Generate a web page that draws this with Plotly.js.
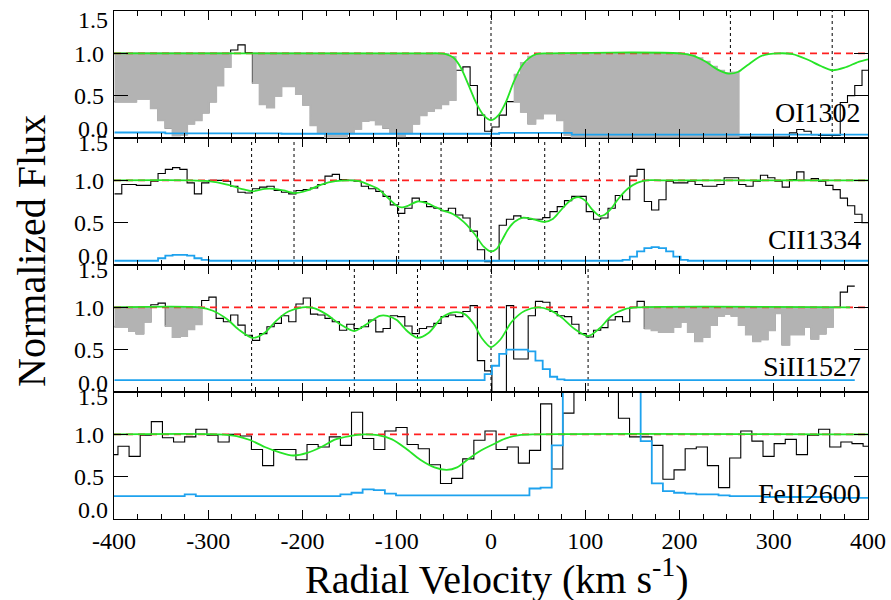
<!DOCTYPE html>
<html><head><meta charset="utf-8">
<script src="https://cdn.plot.ly/plotly-3.0.1.min.js"></script>
<style>html,body{margin:0;padding:0;background:#fff}#chart{width:891px;height:600px}</style>
</head><body><div id="chart"></div>
<script>
// ---------- data ----------
// pixel centres (km/s) of the UV spectrum (OI, CII, SiII)
const velUV = [-395.6,-387.9,-380.2,-372.5,-364.8,-357.1,-349.4,-341.7,-334.0,-326.3,
-318.6,-310.9,-303.2,-295.5,-287.8,-280.1,-272.4,-264.7,-257.0,-249.3,
-241.6,-233.9,-226.2,-218.5,-210.8,-203.1,-195.4,-187.7,-180.0,-172.3,
-164.6,-156.9,-149.2,-141.5,-133.8,-126.1,-118.4,-110.7,-103.0,-95.3,
-87.6,-79.9,-72.2,-64.5,-56.8,-49.1,-41.4,-33.7,-26.0,-18.3,
-10.6,-2.9,4.8,12.5,20.2,27.9,35.6,43.3,51.0,58.7,
66.4,74.1,81.8,89.5,97.2,104.9,112.6,120.3,128.0,135.7,
143.4,151.1,158.8,166.5,174.2,181.9,189.6,197.3,205.0,212.7,
220.4,228.1,235.8,243.5,251.2,258.9,266.6,274.3,282.0,289.7,
297.4,305.1,312.8,320.5,328.2,335.9,343.6,351.3,359.0,366.7,
374.4,382.1,389.8,397.5];

const fluxOI = [0.43,0.43,0.43,0.465,0.465,0.35,0.21,0.12,0.03,0.04,
0.17,0.21,0.30,0.43,0.62,0.84,1.04,1.10,1.01,0.65,
0.40,0.36,0.50,0.61,0.61,0.52,0.39,0.15,0.07,0.01,
0.0,0.0,0.055,0.11,0.20,0.21,0.16,0.12,0.055,0.02,
0.055,0.17,0.27,0.32,0.35,0.40,0.45,0.80,0.84,0.62,
0.27,0.08,0.13,0.27,0.43,0.43,0.31,0.17,0.23,0.29,
0.29,0.21,0.035,0.015,0.015,0.015,0.015,0.015,0.015,0.015,
0.015,0.015,0.015,0.015,0.015,0.015,0.015,0.015,0.015,0.015,
0.015,0.015,0.015,0.015,0.015,0.015,0.01,0.01,0.01,0.01,
0.01,0.01,0.01,0.06,0.10,0.08,0.04,0.03,0.03,0.03,
0.42,0.50,0.62,0.80];
const errOI = [0.065,0.065,0.065,0.065,0.065,0.065,0.065,0.055,0.055,0.055,
0.055,0.055,0.055,0.055,0.055,0.055,0.055,0.055,0.055,0.055,
0.055,0.055,0.055,0.05,0.05,0.05,0.05,0.05,0.05,0.05,
0.05,0.05,0.05,0.05,0.05,0.05,0.05,0.05,0.05,0.05,
0.05,0.05,0.05,0.05,0.05,0.05,0.05,0.05,0.05,0.05,
0.05,0.05,0.05,0.06,0.06,0.06,0.06,0.06,0.06,0.06,
0.06,0.06,0.06,0.04,0.04,0.04,0.04,0.04,0.04,0.04,
0.04,0.04,0.04,0.04,0.04,0.04,0.04,0.04,0.04,0.04,
0.04,0.04,0.04,0.04,0.04,0.04,0.04,0.04,0.04,0.04,
0.04,0.04,0.04,0.04,0.04,0.04,0.04,0.04,0.04,0.04,
0.04,0.04,0.04,0.04];
const modelOIVel = [-400,-70,-55,-48,-40,-32,-24,-16,-8,0,8,16,24,32,40,48,60,200,215,228,240,252,262,272,287,305,320,335,350,362,375,390,400];
const modelOI    = [1,1,1,0.99,0.95,0.83,0.63,0.42,0.27,0.21,0.27,0.43,0.66,0.84,0.94,0.99,1,1,0.97,0.9,0.81,0.76,0.78,0.86,0.97,1.0,0.99,0.93,0.85,0.80,0.83,0.90,0.93];
const maskOI = [[-400,-276],[-253,-37.5],[24,262]];
const compOI = [0,254,362];

const fluxCII = [0.84,0.95,0.95,0.94,0.94,0.99,1.08,1.13,1.15,1.13,
0.97,0.84,0.97,1.0,1.0,0.99,0.93,0.86,0.85,0.90,
0.92,0.93,0.88,0.86,0.84,0.88,0.89,0.91,0.95,1.05,
1.07,1.01,1.0,0.99,0.93,0.90,0.87,0.81,0.71,0.61,
0.67,0.79,0.75,0.69,0.67,0.64,0.67,0.59,0.555,0.40,
0.18,0.04,0.05,0.47,0.54,0.58,0.56,0.54,0.54,0.56,
0.63,0.69,0.76,0.81,0.81,0.63,0.54,0.555,0.67,0.82,
0.77,1.05,1.13,0.75,0.65,0.77,0.99,0.97,0.97,0.99,
0.95,0.93,0.93,0.95,1.03,1.03,0.95,0.93,0.99,1.06,
1.03,0.99,0.92,1.01,1.10,1.0,1.02,0.99,0.94,0.89,
0.79,0.70,0.60,0.50];
const errCII = [0.05,0.05,0.05,0.05,0.05,0.05,0.08,0.11,0.12,0.12,
0.11,0.08,0.06,0.05,0.05,0.05,0.05,0.05,0.05,0.05,
0.05,0.05,0.05,0.05,0.05,0.05,0.05,0.05,0.05,0.05,
0.05,0.05,0.05,0.05,0.05,0.05,0.05,0.05,0.05,0.05,
0.05,0.05,0.05,0.05,0.05,0.05,0.05,0.05,0.05,0.05,
0.05,0.05,0.05,0.05,0.05,0.05,0.05,0.05,0.05,0.05,
0.05,0.05,0.05,0.05,0.05,0.05,0.05,0.05,0.05,0.05,
0.06,0.10,0.16,0.20,0.21,0.20,0.16,0.10,0.06,0.05,
0.05,0.05,0.05,0.05,0.05,0.05,0.05,0.05,0.05,0.05,
0.05,0.05,0.05,0.05,0.05,0.05,0.05,0.05,0.05,0.05,
0.05,0.05,0.05,0.05];
const modelCIIVel = [-400,-320,-300,-280,-265,-253,-240,-230,-220,-209,-195,-180,-165,-150,-140,-130,-120,-110,-100,-95,-88,-78,-68,-58,-50,-40,-29,-17,-8,0,6,12,18,25,34,45,57,65,72,80,88,94,100,107,115,120,127,135,145,155,165,180,400];
const modelCII    = [1,1,0.99,0.95,0.9,0.87,0.9,0.9,0.88,0.85,0.88,0.95,0.99,1.0,0.99,0.95,0.9,0.8,0.7,0.68,0.7,0.75,0.73,0.68,0.64,0.6,0.51,0.36,0.22,0.16,0.19,0.3,0.42,0.51,0.56,0.54,0.51,0.54,0.62,0.72,0.79,0.8,0.76,0.66,0.58,0.59,0.66,0.78,0.9,0.97,1.0,1.0,1.0];
const compCII = [-254,-209,-98,-53,0,57,115];

const fluxSiII = [0.77,0.77,0.72,0.69,0.83,1.03,1.05,0.78,0.65,0.66,
0.74,0.80,1.08,1.12,0.87,0.83,0.91,0.79,0.67,0.61,
0.69,0.77,0.81,0.90,0.83,1.04,1.11,0.92,0.91,0.87,
0.83,0.73,0.80,0.75,0.77,0.85,0.71,0.75,0.90,0.89,
0.78,0.69,0.75,0.77,0.81,0.89,0.91,0.89,0.95,1.02,
0.37,0.25,0.0,0.0,1.02,0.39,0.39,0.90,1.07,1.06,
0.95,0.90,0.89,0.80,0.69,0.65,0.73,0.76,0.85,0.89,
0.83,1.0,1.07,0.75,0.73,0.71,0.71,0.77,0.83,0.71,
0.60,0.65,0.79,0.90,0.92,0.90,0.79,0.68,0.60,0.62,
0.73,0.93,0.56,0.68,0.68,0.77,0.63,0.69,0.77,1.0,
1.18,1.25];
const errSiII = [0.14,0.14,0.14,0.14,0.14,0.14,0.14,0.14,0.14,0.14,
0.14,0.14,0.14,0.14,0.14,0.14,0.14,0.14,0.14,0.14,
0.14,0.14,0.14,0.14,0.14,0.14,0.14,0.14,0.14,0.14,
0.14,0.14,0.14,0.14,0.14,0.14,0.14,0.14,0.14,0.14,
0.14,0.14,0.14,0.14,0.14,0.14,0.14,0.14,0.14,0.14,
0.14,0.21,0.31,0.45,0.50,0.50,0.50,0.48,0.37,0.27,
0.18,0.15,0.14,0.14,0.14,0.14,0.14,0.14,0.14,0.14,
0.14,0.14,0.14,0.14,0.14,0.14,0.14,0.14,0.14,0.14,
0.14,0.14,0.14,0.14,0.14,0.14,0.14,0.14,0.14,0.14,
0.14,0.14,0.14,0.14,0.14,0.14,0.14,0.14,0.14,0.14,
0.14,0.14];
const modelSiIIVel = [-400,-310,-295,-280,-268,-253,-240,-228,-215,-200,-188,-175,-160,-145,-132,-118,-110,-100,-89,-78,-66,-52,-40,-28,-18,-10,0,10,22,36,50,62,75,88,103,115,128,142,158,381];
const modelSiII    = [1,1,0.96,0.86,0.74,0.64,0.7,0.84,0.95,1.0,0.99,0.92,0.8,0.72,0.8,0.9,0.9,0.85,0.72,0.64,0.7,0.88,0.94,0.92,0.8,0.64,0.53,0.62,0.83,0.96,1.0,0.97,0.88,0.75,0.66,0.75,0.9,0.98,1.0,1.0];
const maskSiII = [[-400,-361],[-346,-307],[162,363]];
const compSiII = [-254,-145,-78,0,103];

// FeII 2600 has coarser pixels
const velFe = [-401.7,-389.9,-378.1,-366.3,-354.5,-342.7,-330.9,-319.1,-307.3,-295.5,
-283.7,-271.9,-260.1,-248.3,-236.5,-224.7,-212.9,-201.1,-189.3,-177.5,
-165.7,-153.9,-142.1,-130.3,-118.5,-106.7,-94.9,-83.1,-71.3,-59.5,
-47.7,-35.9,-24.1,-12.3,-0.5,11.3,23.1,34.9,46.7,58.5,
70.3,82.1,93.9,105.7,117.5,129.3,141.1,152.9,164.7,176.5,
188.3,200.1,211.9,223.7,235.5,247.3,259.1,270.9,282.7,294.5,
306.3,318.1,329.9,341.7,353.5,365.3,377.1,388.9,400.7];
const fluxFe = [0.76,0.86,0.74,0.99,1.15,0.96,0.91,0.97,1.06,0.99,
0.91,1.0,0.98,0.82,0.63,0.82,0.82,0.70,0.88,0.85,
0.97,0.87,1.26,0.95,0.82,1.04,1.08,0.88,0.83,0.64,
0.42,0.48,0.71,0.93,1.04,0.82,0.85,0.66,0.81,1.36,
0.59,1.25,1.8,2.1,1.9,1.7,1.19,0.97,0.97,0.87,
0.47,0.58,0.83,0.85,0.63,0.37,0.72,1.04,0.92,0.74,
0.89,0.94,0.76,0.99,1.06,0.85,0.91,0.89,0.86];
const errFe = [0.27,0.27,0.27,0.27,0.27,0.27,0.27,0.29,0.27,0.27,
0.27,0.27,0.27,0.27,0.27,0.27,0.27,0.27,0.27,0.27,
0.27,0.29,0.31,0.35,0.34,0.30,0.28,0.28,0.28,0.28,
0.28,0.28,0.28,0.28,0.28,0.28,0.28,0.28,0.36,0.37,
0.87,2.5,2.5,2.5,2.5,2.5,2.5,2.5,0.92,0.42,
0.33,0.31,0.30,0.29,0.29,0.28,0.27,0.27,0.27,0.26,
0.26,0.26,0.26,0.26,0.26,0.25,0.25,0.25,0.25];
const modelFeVel = [-400,-290,-270,-255,-240,-225,-210,-195,-180,-165,-150,-135,-120,-105,-90,-75,-60,-47,-36,-25,-12,2,15,30,45,400];
const modelFe    = [1,1,0.98,0.93,0.85,0.79,0.75,0.78,0.85,0.94,0.98,1.0,0.99,0.94,0.83,0.7,0.61,0.58,0.61,0.7,0.8,0.88,0.95,0.99,1.0,1.0];

const lineLabels = ['OI1302','CII1334','SiII1527','FeII2600'];
const continuum = 1.0;
const xTickVals = [-400,-300,-200,-100,0,100,200,300,400];
const xTickText = ['-400','-300','-200','-100','0','100','200','300','400'];
const yTickVals = [0,0.5,1.0,1.5];
const yTickText = ['0.0','0.5','1.0','1.5'];

// ---------- drawing ----------
const FONT = '"Liberation Serif", "Times New Roman", Times, serif';
const C_BLACK = '#000000', C_GREEN = '#27e427', C_RED = '#ff2020', C_BLUE = '#1ea2ee', C_GRAY = '#b3b3b3';

function edgesOf(c){
  const n = c.length, e = new Array(n+1);
  for (let i=1;i<n;i++) e[i] = (c[i-1]+c[i])/2;
  e[0] = c[0]-(c[1]-c[0])/2; e[n] = c[n-1]+(c[n-1]-c[n-2])/2;
  return e;
}
function interp(xs, ys, x){
  if (x <= xs[0]) return ys[0];
  for (let i=1;i<xs.length;i++) if (x <= xs[i]) { const t=(x-xs[i-1])/(xs[i]-xs[i-1]); return ys[i-1]+t*(ys[i]-ys[i-1]); }
  return ys[ys.length-1];
}
function hist(c, f, xa, ya, color, width){
  return {x: edgesOf(c), y: f.concat([f[f.length-1]]), xaxis: xa, yaxis: ya, type:'scatter', mode:'lines',
          line:{shape:'hv', color: color, width: width}, hoverinfo:'skip', showlegend:false};
}
function masks(c, f, mv, mf, ranges, xa, ya){
  const e = edgesOf(c);
  return ranges.map(([a,b]) => {
    const idx = []; c.forEach((v,i)=>{ if (v>=a && v<=b) idx.push(i); });
    const xs=[], ys=[];
    idx.forEach(i=>{ xs.push(e[i], e[i+1]); ys.push(f[i], f[i]); });
    idx.slice().reverse().forEach(i=>{ const t=Math.max(interp(mv,mf,c[i]), f[i]); xs.push(e[i+1], e[i]); ys.push(t,t); });
    return {x:xs, y:ys, xaxis:xa, yaxis:ya, type:'scatter', mode:'lines', fill:'toself', fillcolor:C_GRAY,
            line:{color:C_GRAY, width:2}, hoverinfo:'skip', showlegend:false};
  });
}

const panels = [
  {xa:'x4', ya:'y4', vel: velUV, flux: fluxOI, err: errOI, mv: modelOIVel, mf: modelOI, mask: maskOI, comp: compOI},
  {xa:'x3', ya:'y3', vel: velUV, flux: fluxCII, err: errCII, mv: modelCIIVel, mf: modelCII, mask: [], comp: compCII},
  {xa:'x2', ya:'y2', vel: velUV.slice(0, fluxSiII.length), flux: fluxSiII, err: errSiII, mv: modelSiIIVel, mf: modelSiII, mask: maskSiII, comp: compSiII},
  {xa:'x',  ya:'y',  vel: velFe, flux: fluxFe, err: errFe, mv: modelFeVel, mf: modelFe, mask: [], comp: []}
];

const traces = [], shapes = [], annotations = [];
const tickFont = {family:FONT, size:24, color:'#000'};
panels.forEach((p, k) => {
  traces.push(hist(p.vel, p.flux, p.xa, p.ya, C_BLACK, 1.1));
  masks(p.vel, p.flux, p.mv, p.mf, p.mask, p.xa, p.ya).forEach(t => traces.push(t));
  traces.push(hist(p.vel, p.err, p.xa, p.ya, C_BLUE, 1.8));
  traces.push({x:[-400,400], y:[continuum,continuum], xaxis:p.xa, yaxis:p.ya, type:'scatter', mode:'lines',
               line:{color:C_RED, width:1.8, dash:'7px,5px'}, hoverinfo:'skip', showlegend:false});
  traces.push({x:p.mv, y:p.mf, xaxis:p.xa, yaxis:p.ya, type:'scatter', mode:'lines',
               line:{color:C_GREEN, width:1.8, shape:'spline', smoothing:0.8}, hoverinfo:'skip', showlegend:false});
  p.comp.forEach(v => shapes.push({type:'line', xref:p.xa, yref:p.ya+' domain', x0:v, x1:v, y0:0, y1:1,
                                   line:{color:'#000', width:1, dash:'dot'}, layer:'below'}));
  annotations.push({text: lineLabels[k], xref:'paper', x:0.993, xanchor:'right', yref:p.ya+' domain', y:0.2, yanchor:'middle',
                    showarrow:false, font:{family:FONT, size:28, color:'#000'}});
  // end tick labels (0.0 and 1.5) are nudged inward as in the original
  annotations.push({text: yTickText[0], xref:'paper', x:0, xanchor:'right', xshift:-4, yref:p.ya, y:yTickVals[0], yanchor:'middle',
                    yshift: 9, showarrow:false, font:tickFont});
  annotations.push({text: yTickText[3], xref:'paper', x:0, xanchor:'right', xshift:-4, yref:p.ya, y:yTickVals[3], yanchor:'middle',
                    yshift: (k===0 ? -9 : -5), showarrow:false, font:tickFont});
});
annotations.push({text:'Normalized Flux', xref:'paper', yref:'paper', x:-0.1088, y:0.5276, xanchor:'center', yanchor:'middle',
                  textangle:-90, showarrow:false, font:{family:FONT, size:40, color:'#000'}});
annotations.push({text:'Radial Velocity (km s<sup>-1</sup>)', xref:'paper', yref:'paper', x:0.508, y:-0.114, xanchor:'center', yanchor:'middle',
                  showarrow:false, font:{family:FONT, size:40, color:'#000'}});

function xAxis(anchor, labels){
  return {anchor: anchor, range:[-400,400], showline:true, linecolor:'#000', linewidth:1.2, mirror:'ticks',
          ticks:'inside', ticklen:9, tickwidth:1, tickcolor:'#000', tickmode:'array', tickvals:xTickVals, ticktext:xTickText,
          showticklabels:labels,
          minor:{dtick:25, tick0:0, ticks:'inside', ticklen:5, tickcolor:'#000', tickwidth:1},
          showgrid:false, zeroline:false, tickfont:tickFont, fixedrange:true};
}
function yAxis(anchor, dom){
  return {anchor: anchor, domain: dom, range:[0,1.5], showline:true, linecolor:'#000', linewidth:1.2, mirror:'ticks',
          ticks:'inside', ticklen:14, tickwidth:1, tickcolor:'#000', tickmode:'array',
          tickvals:yTickVals.slice(1,3), ticktext:yTickText.slice(1,3),
          showgrid:false, zeroline:false, tickfont:tickFont, ticklabelstandoff:4, fixedrange:true};
}
const layout = {
  width:891, height:600, margin:{l:114, r:23, t:11, b:81}, paper_bgcolor:'#fff', plot_bgcolor:'#fff',
  showlegend:false, font:{family:FONT, color:'#000'},
  xaxis: xAxis('y', true), xaxis2: Object.assign(xAxis('y2', false), {matches:'x'}),
  xaxis3: Object.assign(xAxis('y3', false), {matches:'x'}), xaxis4: Object.assign(xAxis('y4', false), {matches:'x'}),
  yaxis: yAxis('x', [0,0.25]), yaxis2: yAxis('x2', [0.25,0.5]), yaxis3: yAxis('x3', [0.5,0.75]), yaxis4: yAxis('x4', [0.75,1]),
  shapes: shapes, annotations: annotations
};
Plotly.newPlot('chart', traces, layout, {displayModeBar:false, staticPlot:true});
</script>
</body></html>
